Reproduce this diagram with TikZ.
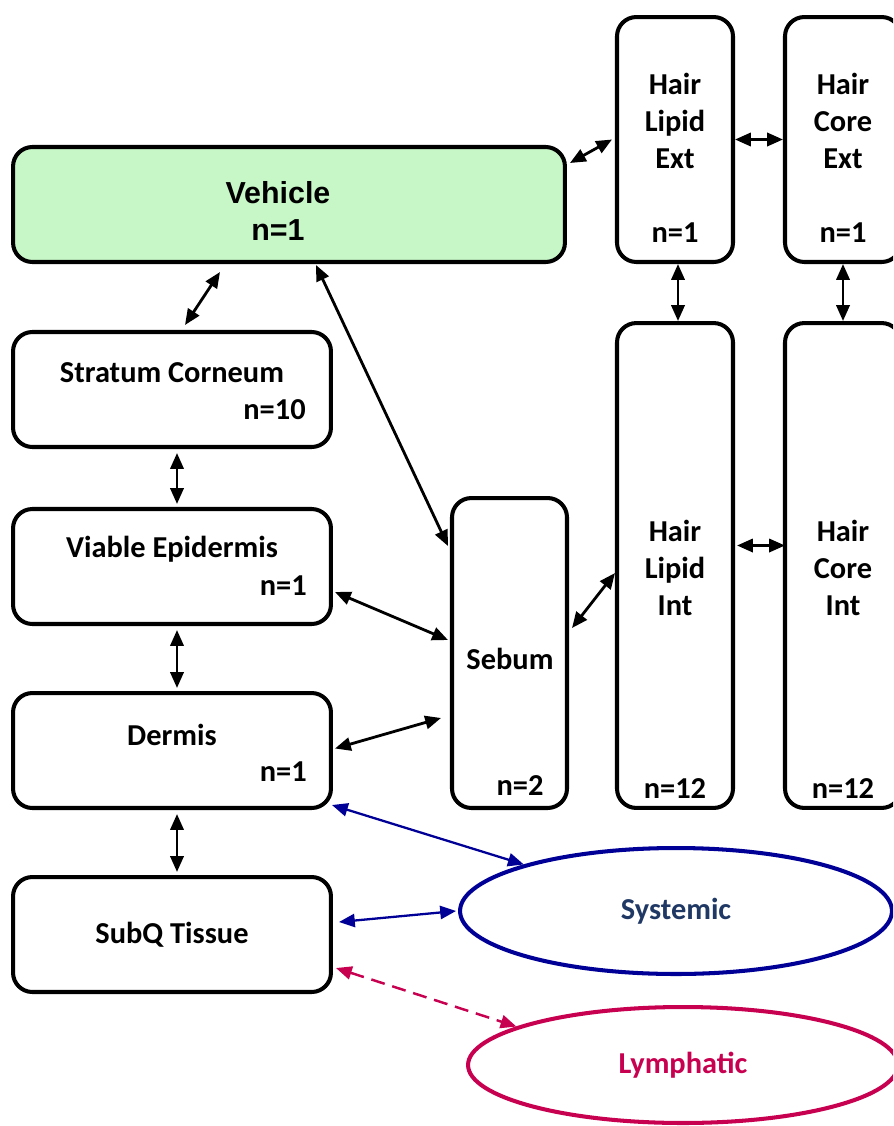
\documentclass[tikz,border=0pt]{standalone}
\usepackage{fontspec}
\setmainfont{Carlito}
\newfontfamily\arialfont{Liberation Sans}
\usetikzlibrary{shapes.geometric, arrows.meta, positioning}
\definecolor{vehgreen}{RGB}{199,247,199}
\definecolor{sysblue}{RGB}{0,0,150}
\definecolor{systext}{RGB}{31,56,100}
\definecolor{lymred}{RGB}{200,0,80}

\begin{document}
\begin{tikzpicture}[
    x=0.02cm, y=-0.02cm,
    box/.style={
        rectangle,
        rounded corners=11pt,
        draw=black,
        line width=2.3pt,
        minimum width=6.36cm,
        minimum height=2.3cm
    },
    hair/.style={box, minimum width=2.32cm},
    txt/.style={font=\bfseries\fontsize{17.3}{21}\selectfont, align=center, inner sep=0pt},
    pool/.style={ellipse, line width=2.3pt, font=\bfseries\fontsize{17.3}{21}\selectfont},
    link/.style={{Triangle[length=9pt,width=7.5pt]}-{Triangle[length=9pt,width=7.5pt]}, line width=1.6pt},
    bluelink/.style={link, draw=sysblue, line width=1.3pt},
    lymlink/.style={link, draw=lymred, line width=1.4pt, dash pattern=on 8pt off 4.5pt}
]
\path[use as bounding box, clip] (0,0) rectangle (893,1126);

% vehicle and hair compartments
\node[box, fill=vehgreen, minimum width=11.04cm] (veh) at (289,204.5) {};
\node[hair, minimum height=4.9cm] (hle) at (675,139.5) {};
\node[hair, minimum height=4.9cm] (hce) at (843,139.5) {};
\node[hair, minimum height=9.7cm] (hli) at (675,565.5) {};
\node[hair, minimum height=9.7cm] (hci) at (843,565.5) {};

% skin layers
\node[box] (sc) at (172,389.5) {};
\node[box] (ve) at (172,566.5) {};
\node[box] (de) at (172,750.5) {};
\node[box, txt] (sq) at (172,934.5) {SubQ Tissue};
\node[box, minimum width=2.3cm, minimum height=6.2cm] (seb) at (509.5,653) {};

% sinks
\node[pool, draw=sysblue, text=systext, minimum width=8.64cm, minimum height=2.52cm] (sys) at (676,911) {Systemic};
\node[pool, draw=lymred, text=lymred, minimum width=8.6cm, minimum height=2.32cm] (lym) at (683,1065) {Lymphatic};

% labels
\node[txt, font=\arialfont\bfseries\fontsize{17.3}{21}\selectfont] (vehtxt) at (278,211) {Vehicle\\n=1};
\node[txt] (hletxt) at (675,121) {Hair\\Lipid\\Ext};
\node[txt] (hlen) at (675,233) {n=1};
\node[txt] (hcetxt) at (843,121) {Hair\\Core\\Ext};
\node[txt] (hcen) at (843,233) {n=1};
\node[txt] (hlitxt) at (675,568) {Hair\\Lipid\\Int};
\node[txt] (hlin) at (675,789) {n=12};
\node[txt] (hcitxt) at (843,568) {Hair\\Core\\Int};
\node[txt] (hcin) at (843,789) {n=12};
\node[txt] (sctxt) at (172,373) {Stratum Corneum};
\node[txt, anchor=east] (scn) at (306,410) {n=10};
\node[txt] (vetxt) at (172,549) {Viable Epidermis};
\node[txt, anchor=east] (ven) at (307,586) {n=1};
\node[txt] (detxt) at (172,735) {Dermis};
\node[txt, anchor=east] (den) at (307,772) {n=1};
\node[txt] (sebtxt) at (510,659) {Sebum};
\node[txt] (sebn) at (520,786) {n=2};

% exchanges
\draw[link] ([shift={(-69,8)}]veh.south) -- ([shift={(13,-5)}]sc.north);
\draw[link] ([shift={(27,1)}]veh.south) -- ([shift={(-2,50)}]seb.north west);
\draw[link] ([shift={(3,18)}]veh.north east) -- ([shift={(-3,0)}]hle.west);
\draw[link] (hle.east) -- (hce.west);
\draw[link] ([shift={(3,0)}]hle.south) -- ([shift={(3,0)}]hli.north);
\draw[link] (hce.south) -- (hci.north);
\draw[link] ([shift={(5,4)}]sc.south) -- ([shift={(5,-3)}]ve.north);
\draw[link] ([shift={(5,4)}]ve.south) -- ([shift={(5,-3)}]de.north);
\draw[link] ([shift={(5,4)}]de.south) -- ([shift={(5,-3)}]sq.north);
\draw[link] ([shift={(2,-34)}]ve.south east) -- ([shift={(-2,-13)}]seb.west);
\draw[link] ([shift={(2,-2)}]de.east) -- ([shift={(-9,65)}]seb.west);
\draw[link] ([shift={(3,-25)}]seb.east) -- ([shift={(0,7.5)}]hli.west);
\draw[link] ([shift={(2,-20)}]hli.east) -- ([shift={(2,-20)}]hci.west);

% clearance
\draw[bluelink] ([shift={(-1,-5)}]de.south east) -- (sys.163);
\draw[bluelink] ([shift={(6,-12.5)}]sq.east) -- ([shift={(-2,0)}]sys.west);
\draw[lymlink] ([shift={(3,-26)}]sq.south east) -- (lym.167);

\end{tikzpicture}
\end{document}
